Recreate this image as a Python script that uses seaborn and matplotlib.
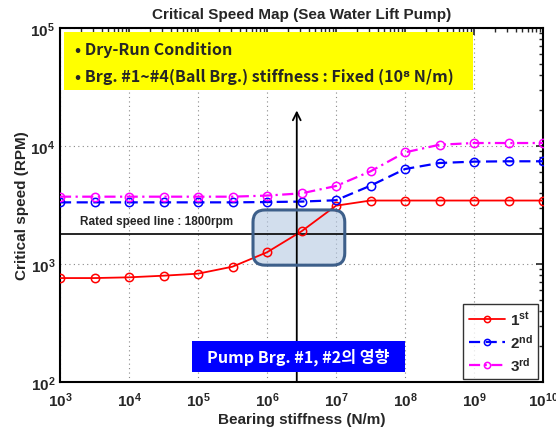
import numpy as np
import pandas as pd
import matplotlib
matplotlib.use("Agg")
import matplotlib.pyplot as plt
import seaborn as sns
from matplotlib.patches import FancyBboxPatch, Rectangle
from matplotlib.ticker import FuncFormatter, LogLocator, NullFormatter

# ---- data ----
stiffness = [1e3, 10**3.5, 1e4, 10**4.5, 1e5, 10**5.5, 1e6, 10**6.5, 1e7,
             10**7.5, 1e8, 10**8.5, 1e9, 10**9.5, 1e10]
mode1 = [760, 760, 771, 796, 828, 949, 1257, 1892, 3120, 3450, 3450, 3450, 3450, 3450, 3450]
mode2 = [3330, 3330, 3330, 3330, 3330, 3330, 3350, 3380, 3470, 4610, 6380, 7180, 7370, 7420, 7420]
mode3 = [3720, 3720, 3720, 3720, 3720, 3720, 3800, 3970, 4580, 6100, 8830, 10250, 10600, 10600, 10600]
series_labels = [r'$\mathbf{1^{st}}$', r'$\mathbf{2^{nd}}$', r'$\mathbf{3^{rd}}$']
rated_speed = 1800
marker_x = 2.7e6
arrow_top = 2.0e4

sns.set_style("white")
plt.rcParams['font.family'] = ['Liberation Sans', 'DejaVu Sans']
plt.rcParams['mathtext.fontset'] = 'custom'
plt.rcParams['mathtext.rm'] = 'Liberation Sans:bold'
plt.rcParams['mathtext.it'] = 'Liberation Sans:bold'
plt.rcParams['mathtext.bf'] = 'Liberation Sans:bold'

fig = plt.figure(figsize=(5.56, 4.31), dpi=100)
ax = fig.add_axes([60/556, 1-383/431, 483/556, 354/431])

styles = [
    dict(color='#ff0000', linestyle='-', linewidth=1.3),
    dict(color='#0000ff', linestyle=(0, (5, 2.5)), linewidth=1.6),
    dict(color='#ff00ff', linestyle=(0, (5, 2, 1, 2)), linewidth=1.6),
]
for vals, lab, st in zip([mode1, mode2, mode3], series_labels, styles):
    df = pd.DataFrame({'k': stiffness, 'n': vals})
    sns.lineplot(data=df, x='k', y='n', ax=ax, marker='o', markersize=6,
                 markerfacecolor='none', markeredgecolor=st['color'],
                 markeredgewidth=1.1, label=lab, zorder=4, **st)

ax.set_xscale('log')
ax.set_yscale('log')
ax.set_xlim(1e3, 1e10)
ax.set_ylim(1e2, 1e5)

ax.xaxis.set_major_locator(LogLocator(base=10, numticks=20))
ax.yaxis.set_major_locator(LogLocator(base=10, numticks=20))
ax.xaxis.set_minor_locator(LogLocator(base=10, subs=np.arange(2, 10), numticks=100))
ax.yaxis.set_minor_locator(LogLocator(base=10, subs=np.arange(2, 10), numticks=100))
ax.xaxis.set_minor_formatter(NullFormatter())
ax.yaxis.set_minor_formatter(NullFormatter())
fmt = FuncFormatter(lambda v, p: r'$\mathbf{10^{%d}}$' % int(round(np.log10(v))))
ax.xaxis.set_major_formatter(fmt)
ax.yaxis.set_major_formatter(fmt)
ax.tick_params(which='both', direction='in', top=True, right=True, labelsize=11)
ax.tick_params(which='major', length=5, width=1.2)
ax.tick_params(which='minor', length=3, width=1.0)
ax.tick_params(axis='x', pad=6)
ax.grid(True, which='major', linestyle=(0, (1, 3)), color='#888888', linewidth=0.8)
for s in ax.spines.values():
    s.set_linewidth(1.5)
    s.set_color('black')

ax.set_title('Critical Speed Map (Sea Water Lift Pump)', fontsize=11, fontweight='bold', pad=7)
ax.set_xlabel('Bearing stiffness (N/m)', fontsize=11, fontweight='bold', labelpad=2)
ax.set_ylabel('Critical speed (RPM)', fontsize=11, fontweight='bold', labelpad=1)

# rated speed line
ax.axhline(rated_speed, color='black', linewidth=1.2, zorder=3)
ax.text(10**3.29, 2310, 'Rated speed line : 1800rpm', fontsize=8.5, fontweight='bold',
        ha='left', va='center', zorder=5)

# vertical arrow
ax.annotate('', xy=(marker_x, arrow_top), xytext=(marker_x, 1e2),
            arrowprops=dict(arrowstyle='->', color='black', lw=1.3,
                            mutation_scale=14, shrinkA=0, shrinkB=0), zorder=5)

# shaded rounded box
ax.add_patch(FancyBboxPatch((0.3996, 0.33), 0.19, 0.156,
                            boxstyle='round,pad=0,rounding_size=0.025',
                            mutation_aspect=483/354,
                            transform=ax.transAxes, facecolor='#b4c8e2', alpha=0.6,
                            edgecolor='none', zorder=2))
ax.add_patch(FancyBboxPatch((0.3996, 0.33), 0.19, 0.156,
                            boxstyle='round,pad=0,rounding_size=0.025',
                            mutation_aspect=483/354,
                            transform=ax.transAxes, facecolor='none',
                            edgecolor='#3d5f8a', linewidth=2.2, zorder=6))

# yellow condition box
kfont = ['Noto Sans CJK KR', 'DejaVu Sans']
ax.add_patch(Rectangle((0.008, 0.825), 0.847, 0.164, transform=ax.transAxes,
                       facecolor='#ffff00', edgecolor='none', zorder=6))
ax.text(0.031, 0.94, '• Dry-Run Condition', transform=ax.transAxes, fontsize=11.6,
        family=kfont, fontweight='bold', ha='left', va='center', zorder=7)
ax.text(0.031, 0.864, '• Brg. #1~#4(Ball Brg.) stiffness : Fixed (10⁸ N/m)',
        transform=ax.transAxes, fontsize=11.6, family=kfont, fontweight='bold',
        ha='left', va='center', zorder=7)

# blue box
ax.add_patch(Rectangle((0.273, 0.028), 0.441, 0.088, transform=ax.transAxes,
                       facecolor='#0000ff', edgecolor='none', zorder=6))
ax.text(0.493, 0.072, 'Pump Brg. #1, #2의 영향', transform=ax.transAxes, fontsize=11.6,
        family=kfont, fontweight='bold', color='white', ha='center', va='center', zorder=7)

leg = ax.legend(loc='lower right', bbox_to_anchor=(0.99, 0.008), fontsize=11,
                frameon=True, fancybox=False, edgecolor='black', handlelength=2.4,
                labelspacing=0.35, borderpad=0.35, handletextpad=0.3,
                borderaxespad=0.0, markerscale=0.75)
leg.get_frame().set_linewidth(1.0)
leg.set_zorder(8)

fig.savefig('out.png', dpi=100)
